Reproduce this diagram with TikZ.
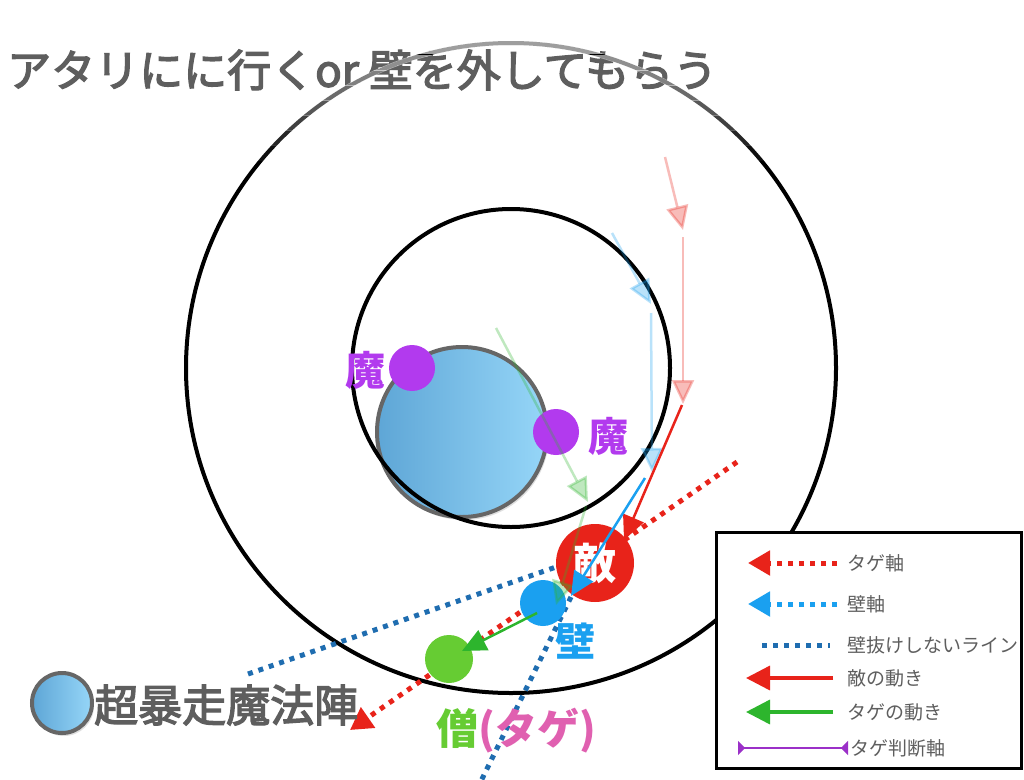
\documentclass[tikz,border=0pt]{standalone}
\usepackage{fontspec}
\setmainfont{Noto Sans CJK JP}
\newfontfamily\jpsemi[FakeBold=3]{Noto Sans CJK JP}
\usetikzlibrary{arrows.meta,shadows}
\definecolor{txtgray}{HTML}{5E5E5E}
\definecolor{ringgray}{HTML}{666666}
\definecolor{tekired}{HTML}{E8231A}
\definecolor{kabeblue}{HTML}{1AA0F0}
\definecolor{linedblue}{HTML}{1F6DB0}
\definecolor{tagegreen}{HTML}{66CC33}
\definecolor{movegreen}{HTML}{2DB52D}
\definecolor{mapurple}{HTML}{B23AEE}
\definecolor{pinktxt}{HTML}{E060B0}
\definecolor{judgepurple}{HTML}{9B30C8}
\definecolor{mblue1}{HTML}{5EA6D6}
\definecolor{mblue2}{HTML}{96D6F8}
\tikzset{
  bigtip/.tip={Triangle[length=24pt,width=22pt]},
  legtip/.tip={Triangle[length=24pt,width=24pt]},
  dottip/.tip={Triangle[length=22pt,width=24pt]},
  smalltip/.tip={Triangle[reversed,length=7pt,width=14pt]},
  ring/.style={draw=black,line width=4pt},
  mahojin/.style={circle,draw=ringgray,line width=4pt,left color=mblue1,right color=mblue2,inner sep=0pt,
    drop shadow={opacity=0.25,shadow xshift=2pt,shadow yshift=-3pt}},
  dot/.style={circle,inner sep=0pt,minimum size=#1},
  dotline/.style={line width=5pt,dash pattern=on 5pt off 6pt},
  move/.style={line width=2.5pt,-bigtip},
  faded/.style={opacity=0.3},
  bigtxt/.style={font=\bfseries\fontsize{40}{44}\selectfont,inner sep=0pt},
  legtxt/.style={font=\fontsize{19}{22}\selectfont,text=txtgray,anchor=west,inner sep=0pt},
  headtxt/.style={font=\jpsemi\fontsize{44}{48}\selectfont,text=txtgray,anchor=west,inner sep=0pt},
}
\begin{document}
\begin{tikzpicture}[x=1pt,y=-1pt]
\useasboundingbox (0,0) rectangle (1024,779);
\fill[white] (0,0) rectangle (1024,779);

% title
\node[headtxt] (title) at (7,70) {アタリにに行くor 壁を外してもらう};

% magic circle
\node[mahojin,minimum size=170pt] (maho) at (462,432) {};

% rings
\coordinate (ctr) at (511,368);
\draw[ring] (ctr) circle[radius=325];
\foreach \ya/\op in {38/0.62,55/0.56,70/0.5,85/0.42,100/0.34,115/0.25,130/0.15,145/0.06}{
  \begin{scope}
    \clip (0,\ya) rectangle (1024,\ya+15.5);
    \draw[white,line width=5pt,opacity=\op] (ctr) circle[radius=325];
  \end{scope}
}
\draw[ring] (ctr) circle[radius=159];

% purple
\node[dot=46pt,fill=mapurple] (ma1) at (412,368) {};
\node[dot=46pt,fill=mapurple] (ma2) at (556,432) {};
\node[bigtxt,text=mapurple] (ma1t) at (365,370) {魔};
\node[bigtxt,text=mapurple] (ma2t) at (608,436) {魔};

% dotted lines
\coordinate (ta) at (737,462);
\coordinate (tb) at (350,730);
\draw[dotline,tekired,-dottip] (ta) -- (tb);
\coordinate (la1) at (248,674);
\coordinate (la2) at (556,567);
\coordinate (lb1) at (571,597);
\coordinate (lb2) at (481,781);
\draw[dotline,linedblue] (la1) -- (la2);
\draw[dotline,linedblue] (lb1) -- (lb2);

% characters
\node[dot=78pt,fill=tekired,bigtxt,font=\bfseries\fontsize{43}{46}\selectfont,text=white] (teki) at (595,563) {敵};
\node[dot=46pt,fill=kabeblue] (kabe) at (543,603) {};
\node[bigtxt,text=kabeblue] (kabet) at (575,641) {壁};
\node[dot=48pt,fill=tagegreen] (so) at (449,659) {};
\node[font=\bfseries\fontsize{42}{46}\selectfont,inner sep=0pt] (sot) at (516,731) {\textcolor{tagegreen}{僧}\textcolor{pinktxt}{(タゲ)}};

% faded movement arrows
\coordinate (p1) at (665,157);
\coordinate (p2) at (683,230);
\coordinate (p3) at (683,237);
\coordinate (p4) at (683,404);
\draw[move,tekired,faded] (p1) -- (p2);
\draw[move,tekired,faded] (p3) -- (p4);
\coordinate (b1) at (612,233);
\coordinate (b2) at (651,304);
\coordinate (b3) at (651,313);
\coordinate (b4) at (652,472);
\draw[move,kabeblue,faded] (b1) -- (b2);
\draw[move,kabeblue,faded] (b3) -- (b4);
\coordinate (g1) at (496,328);
\coordinate (g2) at (588,502);
\coordinate (g3) at (586,506);
\coordinate (g4) at (556,605);
\draw[move,movegreen,faded] (g1) -- (g2);
\draw[move,movegreen,faded] (g3) -- (g4);

% solid movement arrows
\coordinate (r1) at (682,405);
\coordinate (r2) at (624,540);
\draw[move,tekired] (r1) -- (r2);
\coordinate (bb1) at (645,478);
\coordinate (bb2) at (571,596);
\draw[move,kabeblue] (bb1) -- (bb2);
\coordinate (gg1) at (537,613);
\coordinate (gg2) at (462,651);
\draw[move,movegreen] (gg1) -- (gg2);

% bottom-left label
\node[mahojin,minimum size=60pt] (mahoL) at (62,703) {};
\node[headtxt] (mahoLt) at (94,705) {超暴走魔法陣};

% legend
\draw[fill=white,line width=3pt] (716,532) rectangle (1021,768);
\coordinate (l1a) at (837,563); \coordinate (l1b) at (748,563);
\draw[dotline,tekired,-dottip] (l1a) -- (l1b);
\node[legtxt] (l1t) at (847,563) {タゲ軸};
\coordinate (l2a) at (837,604); \coordinate (l2b) at (748,604);
\draw[dotline,kabeblue,-dottip] (l2a) -- (l2b);
\node[legtxt] (l2t) at (847,604) {壁軸};
\coordinate (l3a) at (762,645); \coordinate (l3b) at (830,645);
\draw[dotline,linedblue] (l3a) -- (l3b);
\node[legtxt] (l3t) at (847,645) {壁抜けしないライン};
\coordinate (l4a) at (833,678); \coordinate (l4b) at (746,678);
\draw[line width=3.5pt,tekired,-legtip] (l4a) -- (l4b);
\node[legtxt] (l4t) at (847,678) {敵の動き};
\coordinate (l5a) at (833,712); \coordinate (l5b) at (746,712);
\draw[line width=3.5pt,movegreen,-legtip] (l5a) -- (l5b);
\node[legtxt] (l5t) at (847,712) {タゲの動き};
\coordinate (l6a) at (738,748); \coordinate (l6b) at (848,748);
\draw[line width=1.8pt,judgepurple,smalltip-smalltip] (l6a) -- (l6b);
\node[legtxt] (l6t) at (850,748) {タゲ判断軸};
\end{tikzpicture}
\end{document}
